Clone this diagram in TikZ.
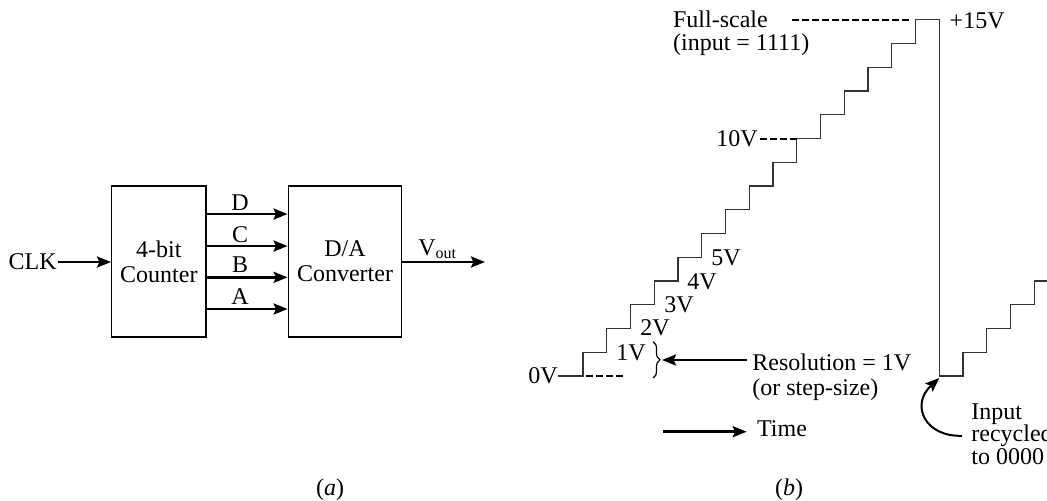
\documentclass[tikz,border=0pt]{standalone}
\usepackage{fontspec}
\setmainfont{Liberation Serif}
\usetikzlibrary{arrows.meta,decorations.pathreplacing,calc}
\begin{document}
\begin{tikzpicture}[x=0.5pt,y=-0.5pt,
  every node/.style={font=\fontsize{12}{12.5}\selectfont, inner sep=0pt},
  blk/.style={draw, line width=0.7pt, minimum height=75.5pt, align=center},
  arr/.style={line width=1.3pt, -{Stealth[length=7pt,width=5.5pt,inset=1.2pt]}},
  curvarr/.style={line width=1pt, -{Stealth[length=7pt,width=5.5pt,inset=1.2pt]}},
  stair/.style={line width=0.7pt, black!80},
  dsh/.style={line width=1pt, dash pattern=on 3.5pt off 1.5pt},
]
\useasboundingbox (0,0) rectangle (1047,500);

% ---------- (a) block diagram ----------
\node[blk, minimum width=47.15pt] (cnt) at (158.85,261.5) {4-bit\\Counter};
\node[blk, minimum width=56.7pt] (dac) at (345,261.5) {D/A\\Converter};
\node[anchor=east] (clk) at (57,262) {CLK};
\draw[arr] ([xshift=0.5pt]clk.east) -- (cnt.west |- clk.east);

\draw[arr] (cnt.east |- 0,214) -- (dac.west |- 0,214);
\draw[arr] (cnt.east |- 0,246) -- (dac.west |- 0,246);
\draw[arr] (cnt.east |- 0,277.3) -- (dac.west |- 0,277.3);
\draw[arr] (cnt.east |- 0,309) -- (dac.west |- 0,309);
\node (lD) at (240,202.7) {D};
\node (lC) at (240,235) {C};
\node (lB) at (240,265) {B};
\node (lA) at (240,296.7) {A};

\coordinate (vout) at (485,262);
\draw[arr] (dac.east |- vout) -- (vout);
\node[anchor=base west] (lvout) at (418,255) {V\textsubscript{out}};

\node (capa) at (330,490) {(\textit{a})};

% ---------- (b) staircase ----------
\node[anchor=east] (v0) at (558,376) {0V};
\draw[stair] (v0.east) -- (583,376)
  \foreach \k in {1,...,15}{ -- ({583+23.75*(\k-1)},{376-23.75*\k}) -- ({583+23.75*\k},{376-23.75*\k}) }
  -- (939.25,376) -- (963,376)
  \foreach \k in {1,...,3}{ -- ({939.25+23.75*\k},{376-23.75*\k}) -- ({939.25+23.75*(\k+1)},{376-23.75*\k}) }
  -- (1034.25,304.75) -- (1034.25,281) -- (1047,281);

\coordinate (drop) at (939.25,376);
\draw[dsh] (586,376) -- (623,376);

\node (l1) at (631,353) {1V};
\node (l2) at (655,328) {2V};
\node (l3) at (679,305) {3V};
\node (l4) at (702,282) {4V};
\node (l5) at (726,258) {5V};

\node[anchor=east] (v10) at (758,139) {10V};
\draw[dsh] ([xshift=1pt]v10.east) -- (797,139);

\node[anchor=base west] (fs1) at (672.7,27.5) {Full-scale};
\node[anchor=base west] (fs2) at (672.7,50) {(input = 1111)};
\draw[dsh] (791.7,20) -- (911.7,20);
\node[anchor=base west] (v15) at (949.3,28) {+15V};

% resolution
\draw[line width=0.6pt, decorate, decoration={brace, amplitude=3.5pt}] (653,341.7) -- (653,378);
\coordinate (bt) at (662,360);
\node[anchor=base west] (res) at (752,370) {Resolution = 1V};
\node[anchor=base west] (res2) at (752,395) {(or step-size)};
\draw[arr] ($(res.west |- bt)+(-5.5,0)$) -- (bt);

% time
\coordinate (t0) at (663,431.7);
\node[anchor=base west] (time) at (756.7,436) {Time};
\draw[arr] (t0) -- ($(time.west |- t0)+(-10,0)$);

% input recycled
\node[anchor=base west] (in1) at (971,419) {Input};
\node[anchor=base west] (in2) at (971,441.5) {recycled};
\node[anchor=base west] (in3) at (971,464) {to 0000};
\draw[curvarr] ($(in2.west)+(-9,0)$) .. controls (925,437) and (910,405) .. ([yshift=-1pt]drop);

\node (capb) at (789,490) {(\textit{b})};
\end{tikzpicture}
\end{document}
